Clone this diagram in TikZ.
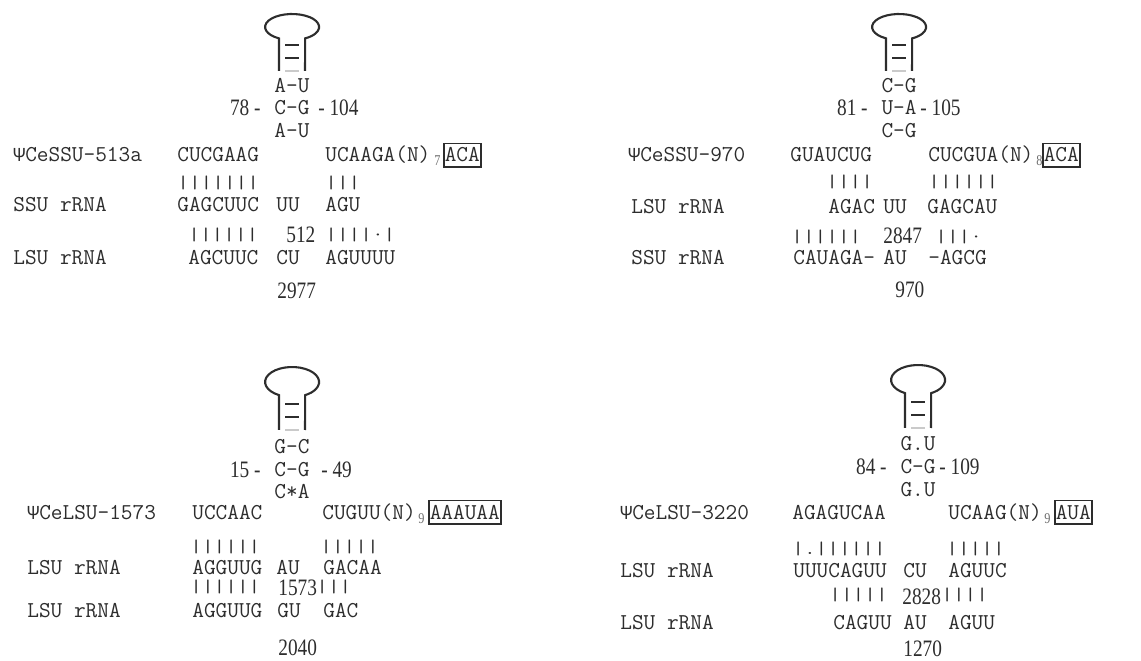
\documentclass[tikz,border=0pt]{standalone}
\usepackage{fontspec}
\usepackage{graphicx}
\usepackage{tikz}
\newfontfamily\psimono{Liberation Mono}
\newfontfamily\serifnum[FakeStretch=0.82]{Liberation Serif}
\newcommand\rungs[1]{\scalebox{1}[0.8]{#1}}
\newcommand\psisym{{\psimono\fontsize{11.3}{13}\selectfont Ψ}}
\definecolor{ink}{RGB}{45,45,45}

\begin{document}
\begin{tikzpicture}[
	x=0.02cm,y=-0.02cm,
	seq/.style={
		anchor=base west,
		inner sep=0pt,
		text=ink,
		font=\ttfamily\fontsize{12.9}{14}\selectfont
	},
	pair/.style={seq,anchor=base},
	num/.style={
		anchor=base west,
		inner sep=0pt,
		text=ink,
		font=\serifnum\fontsize{13.4}{15}\selectfont
	},
	idx/.style={num,text=ink!70,font=\serifnum\fontsize{8.5}{9}\selectfont},
	motif/.style={seq,draw=ink,line width=0.85pt,inner xsep=0.6pt,inner ysep=2.6pt},
	stem/.style={draw=ink,line width=1.2pt},
	rung/.style={draw=ink,line width=1pt}
	]
	\useasboundingbox (0,0) rectangle (1141,661);

	\foreach \cx/\cy/\ry/\yb in {292/27/13/71,899/27/13/71,292/382/15/430,918/380/15/428}{
		\draw[stem] (\cx-13,\yb) -- (\cx-13,\cy+0.875*\ry)
			arc[start angle=119,end angle=421,x radius=27,y radius=\ry] -- (\cx+13,\yb);
		\draw[rung] (\cx-7,\yb-26) -- (\cx+7,\yb-26) (\cx-7,\yb-13) -- (\cx+7,\yb-13);
		\draw[rung,draw=ink!25] (\cx-7,\yb) -- (\cx+7,\yb);
	}

	\node[pair](p1s1) at (292,93){A-U};
	\node[pair](p1s2) at (292,115){C-G};
	\node[pair](p1s3) at (292,138){A-U};
	\node[num,anchor=base east](p1l) at (261,116){78 -};
	\node[num](p1r) at (318,116){- 104};
	\node[seq](p1a0) at (13,162){\psisym CeSSU-513a};
	\node[seq](p1a1) at (177,162){CUCGAAG};
	\node[seq](p1a2) at (325,162){UCAAGA(N)};
	\node[idx](p1an) at (434,166){7};
	\node[motif](p1am) at (443,162){ACA};
	\node[seq](p1k1) at (177,189){\rungs{|||||||}};
	\node[seq](p1k2) at (325,189){\rungs{|||}};
	\node[seq](p1b0) at (13,212){SSU rRNA};
	\node[seq](p1b1) at (177,212){GAGCUUC};
	\node[seq](p1b2) at (276,212){UU};
	\node[seq](p1b3) at (325,212){AGU};
	\node[seq](p1j1) at (188,241){\rungs{||||||}};
	\node[num](p1j2) at (286,243){512};
	\node[seq](p1j3) at (325,241){\rungs{||||·|}};
	\node[seq](p1c0) at (13,265){LSU rRNA};
	\node[seq](p1c1) at (188,265){AGCUUC};
	\node[seq](p1c2) at (276,265){CU};
	\node[seq](p1c3) at (325,265){AGUUUU};
	\node[num](p1c4) at (277,299){2977};

	\node[pair](p2s1) at (899,93){C-G};
	\node[pair](p2s2) at (899,115){U-A};
	\node[pair](p2s3) at (899,138){C-G};
	\node[num,anchor=base east](p2l) at (868,116){81 -};
	\node[num](p2r) at (920,116){- 105};
	\node[seq](p2a0) at (628,162){\psisym CeSSU-970};
	\node[seq](p2a1) at (790,162){GUAUCUG};
	\node[seq](p2a2) at (928,162){CUCGUA(N)};
	\node[idx](p2an) at (1036,166){8};
	\node[motif](p2am) at (1042,162){ACA};
	\node[seq](p2k1) at (826,188){\rungs{||||}};
	\node[seq](p2k2) at (928,188){\rungs{||||||}};
	\node[seq](p2b0) at (631,214){LSU rRNA};
	\node[seq](p2b1) at (828,214){AGAC};
	\node[seq](p2b2) at (883,214){UU};
	\node[seq](p2b3) at (927,214){GAGCAU};
	\node[seq](p2j1) at (791,243){\rungs{||||||}};
	\node[num](p2j2) at (883,244){2847};
	\node[seq](p2j3) at (935,243){\rungs{|||·}};
	\node[seq](p2c0) at (631,265){SSU rRNA};
	\node[seq](p2c1) at (793,265){CAUAGA-};
	\node[seq](p2c2) at (883,265){AU};
	\node[seq](p2c3) at (928,265){-AGCG};
	\node[num](p2c4) at (895,298){970};

	\node[pair](p3s1) at (292,454){G-C};
	\node[pair](p3s2) at (292,476){C-G};
	\node[pair](p3s3) at (292,498){C*A};
	\node[num,anchor=base east](p3l) at (261,477){15 -};
	\node[num](p3r) at (321,477){- 49};
	\node[seq](p3a0) at (27,519){\psisym CeLSU-1573};
	\node[seq](p3a1) at (192,519){UCCAAC};
	\node[seq](p3a2) at (322,519){CUGUU(N)};
	\node[idx](p3an) at (418,523){9};
	\node[motif](p3am) at (428,519){AAAUAA};
	\node[seq](p3k1) at (190,552){\rungs{||||||}};
	\node[seq](p3k2) at (320,552){\rungs{|||||}};
	\node[seq](p3b0) at (27,574){LSU rRNA};
	\node[seq](p3b1) at (192,574){AGGUUG};
	\node[seq](p3b2) at (276,574){AU};
	\node[seq](p3b3) at (323,574){GACAA};
	\node[seq](p3j1) at (190,592){\rungs{||||||}};
	\node[num](p3j2) at (278,595){1573};
	\node[seq](p3j3) at (316,592){\rungs{|||}};
	\node[seq](p3c0) at (27,617){LSU rRNA};
	\node[seq](p3c1) at (192,617){AGGUUG};
	\node[seq](p3c2) at (277,617){GU};
	\node[seq](p3c3) at (323,617){GAC};
	\node[num](p3c4) at (278,655){2040};

	\node[pair](p4s1) at (918,450){G.U};
	\node[pair](p4s2) at (918,473){C-G};
	\node[pair](p4s3) at (918,496){G.U};
	\node[num,anchor=base east](p4l) at (887,474){84 -};
	\node[num](p4r) at (939,474){- 109};
	\node[seq](p4a0) at (620,519){\psisym CeLSU-3220};
	\node[seq](p4a1) at (792,519){AGAGUCAA};
	\node[seq](p4a2) at (948,519){UCAAG(N)};
	\node[idx](p4an) at (1044,523){9};
	\node[motif](p4am) at (1054,519){AUA};
	\node[seq](p4k1) at (792,554){\rungs{|.||||||}};
	\node[seq](p4k2) at (946,554){\rungs{|||||}};
	\node[seq](p4b0) at (620,577){LSU rRNA};
	\node[seq](p4b1) at (793,577){UUUCAGUU};
	\node[seq](p4b2) at (903,577){CU};
	\node[seq](p4b3) at (948,577){AGUUC};
	\node[seq](p4j1) at (829,600){\rungs{|||||}};
	\node[num](p4j2) at (902,604){2828};
	\node[seq](p4j3) at (941,600){\rungs{||||}};
	\node[seq](p4c0) at (620,629){LSU rRNA};
	\node[seq](p4c1) at (833,629){CAGUU};
	\node[seq](p4c2) at (903,629){AU};
	\node[seq](p4c3) at (948,629){AGUU};
	\node[num](p4c4) at (903,656){1270};

\end{tikzpicture}
\end{document}
